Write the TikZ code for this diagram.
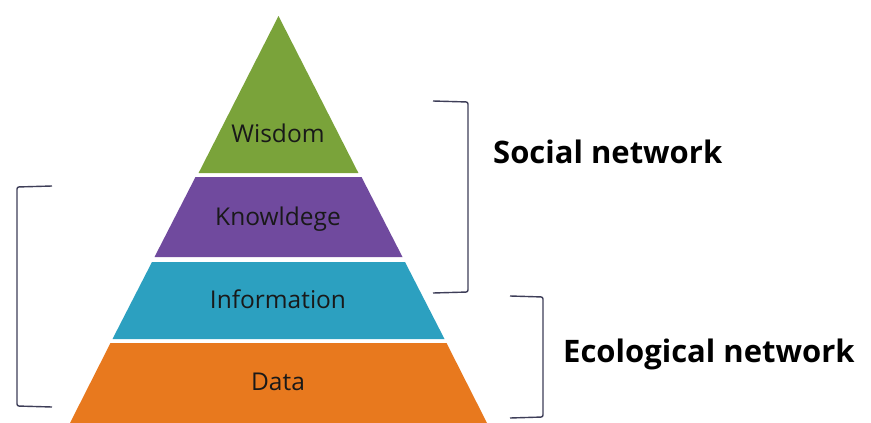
\documentclass[tikz,border=0pt]{standalone}
\usepackage{fontspec}
\setmainfont{Open Sans}
\begin{document}
\begin{tikzpicture}[x=1pt,y=-1pt,
  layertext/.style={font=\fontsize{24.5}{28}\selectfont, text=black!90, anchor=base},
  sidelabel/.style={font=\fontsize{31}{36}\selectfont\bfseries, text=black, anchor=base west, inner sep=0pt},
  brack/.style={draw=bcol, line width=1.4pt, rounded corners=2pt}
]
\definecolor{wgreen}{RGB}{122,163,58}
\definecolor{kpurple}{RGB}{112,74,158}
\definecolor{iteal}{RGB}{44,160,192}
\definecolor{dorange}{RGB}{232,121,30}
\definecolor{bcol}{RGB}{62,62,88}
\useasboundingbox (0,0) rectangle (871,423);
\fill[white] (0,0) rectangle (871,423);
% layers
\fill[wgreen] (278.5,16) -- (358.4,173) -- (198.6,173) -- cycle;
\fill[kpurple] (195.5,177) -- (361.5,177) -- (402.5,257) -- (154.5,257) -- cycle;
\fill[iteal] (152,262) -- (405,262) -- (444.5,339) -- (112.5,339) -- cycle;
\fill[dorange] (110.5,343) -- (446.5,343) -- (487,423) -- (70,423) -- cycle;
% layer texts
\node[layertext] (wisdom) at (278,142) {Wisdom};
\node[layertext] (knowledge) at (278,225) {Knowldege};
\node[layertext] (information) at (278,308) {Information};
\node[layertext] (data) at (278,390) {Data};
% brackets
\draw[brack] (52,186) -- (17,187) -- (17,406) -- (52,407);
\draw[brack] (433,101) -- (468,102) -- (468,292) -- (433,293);
\draw[brack] (510,296) -- (543,297) -- (543,417) -- (510,418);
% side labels
\node[sidelabel] (social) at (493,163) {Social network};
\node[sidelabel] (eco) at (563,362) {Ecological network};
\end{tikzpicture}
\end{document}
